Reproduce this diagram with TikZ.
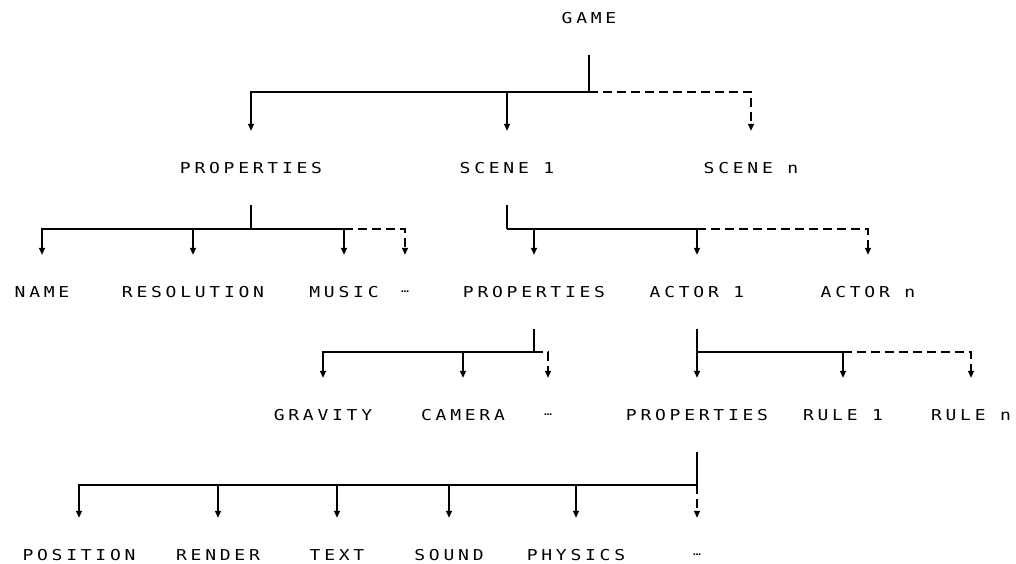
\documentclass[tikz,border=0pt]{standalone}
\usepackage{fontspec}
\newfontfamily\treefont{DejaVu Sans Mono}[FakeStretch=1.2, LetterSpace=25]
\usetikzlibrary{positioning}
\usetikzlibrary{arrows.meta}
\tikzset{
  item/.style = {font=\treefont\fontsize{15}{15}\selectfont, inner sep=0pt,
   minimum height=74pt},
  dots/.style = {item, font=\treefont\fontsize{11}{11}\selectfont},
  link/.style = {line width=1.4pt, -{Triangle[length=7pt,width=6pt]}},
  stem/.style = {line width=2pt},
  more/.style = {link, dash pattern=on 9pt off 5pt},
}
\begin{document}
\begin{tikzpicture}[x=1pt, y=-1pt]
  \useasboundingbox (0,0) rectangle (1016,563);
  % nodes
  \node[item] (game)    at (589,18)  {GAME};
  \node[item] (gprops)  at (251,168) {PROPERTIES};
  \node[item] (scene1)  at (507,168) {SCENE 1};
  \node[item] (scenen)  at (751,168) {SCENE n};
  \node[item] (name)    at (42,292)  {NAME};
  \node[item] (res)     at (193,292) {RESOLUTION};
  \node[item] (music)   at (344,292) {MUSIC};
  \node[dots] (gdots)   at (405,292) {…};
  \node[item] (sprops)  at (534,292) {PROPERTIES};
  \node[item] (actor1)  at (697,292) {ACTOR 1};
  \node[item] (actorn)  at (868,292) {ACTOR n};
  \node[item] (gravity) at (323,415) {GRAVITY};
  \node[item] (camera)  at (463,415) {CAMERA};
  \node[dots] (sdots)   at (548,415) {…};
  \node[item] (aprops)  at (697,415) {PROPERTIES};
  \node[item] (rule1)   at (843,415) {RULE 1};
  \node[item] (rulen)   at (971,415) {RULE n};
  \node[item] (pos)     at (79,555)  {POSITION};
  \node[item] (render)  at (218,555) {RENDER};
  \node[item] (text)    at (337,555) {TEXT};
  \node[item] (sound)   at (449,555) {SOUND};
  \node[item] (physics) at (576,555) {PHYSICS};
  \node[dots] (adots)   at (697,555) {…};
  % junctions
  \coordinate (jg) at (game.south |- 0,92);
  \coordinate (jp) at (gprops.south |- 0,229);
  \coordinate (js) at (scene1.south |- 0,229);
  \coordinate (jq) at (sprops.south |- 0,352);
  \coordinate (ja) at (actor1.south |- 0,352);
  \coordinate (jr) at (aprops.south |- 0,485);
  % game
  \draw[stem] (game.south) -- (jg);
  \draw[link] (jg) -| (gprops.north);
  \draw[link] (jg) -| (scene1.north);
  \draw[more] (jg) -| (scenen.north);
  % game properties
  \draw[stem] (gprops.south) -- (jp);
  \foreach \c in {name,res,music}
    \draw[link] (jp) -| (\c.north);
  \draw[more] (jp -| music) -| (gdots.north);
  % scene
  \draw[stem] (scene1.south) -- (js);
  \draw[link] (js) -| (sprops.north);
  \draw[link] (js) -| (actor1.north);
  \draw[more] (js -| actor1) -| (actorn.north);
  % scene properties
  \draw[stem] (sprops.south) -- (jq);
  \draw[link] (jq) -| (gravity.north);
  \draw[link] (jq) -| (camera.north);
  \draw[more] (jq) -| (sdots.north);
  % actor
  \draw[link] (actor1.south) -- (aprops.north);
  \draw[link] (ja) -| (rule1.north);
  \draw[more] (ja -| rule1) -| (rulen.north);
  % actor properties
  \draw[stem] (aprops.south) -- (jr);
  \foreach \c in {pos,render,text,sound,physics}
    \draw[link] (jr) -| (\c.north);
  \draw[more] (jr) -- (adots.north);
\end{tikzpicture}
\end{document}
